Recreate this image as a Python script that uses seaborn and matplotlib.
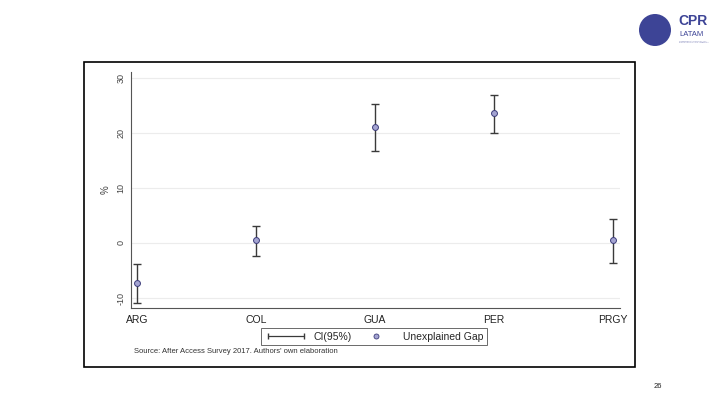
import matplotlib
matplotlib.use("Agg")
import matplotlib.pyplot as plt
import matplotlib.patches as mpatches
from matplotlib.lines import Line2D
from matplotlib.legend_handler import HandlerLine2D
import seaborn as sns
import pandas as pd

# data
countries = ["ARG", "COL", "GUA", "PER", "PRGY"]
gap = [-7.2, 0.5, 21.0, 23.6, 0.5]
ci_low = [-10.9, -2.4, 16.6, 20.0, -3.6]
ci_high = [-3.8, 3.1, 25.3, 26.8, 4.3]
yticks = [-10, 0, 10, 20, 30]

df = pd.DataFrame({"pos": range(len(countries)), "gap": gap,
                   "lo": ci_low, "hi": ci_high})

sns.set_style("white")
plt.rcParams["font.family"] = ["Liberation Sans", "DejaVu Sans"]

fig = plt.figure(figsize=(7.2, 4.05), dpi=100)
ax = fig.add_axes([0.182, 0.2395, 0.679, 0.5825])

# horizontal grid lines
for t in yticks:
    ax.axhline(t, color="#ececec", lw=0.8, zorder=0)

# CI bars
err = [df["gap"] - df["lo"], df["hi"] - df["gap"]]
ax.errorbar(df["pos"], df["gap"], yerr=err, fmt="none", ecolor="#3a3a3a",
            elinewidth=1.0, capsize=3, capthick=1.0, zorder=2)
sns.scatterplot(data=df, x="pos", y="gap", ax=ax, s=18, color="#a4a4d2",
                edgecolor="#3c3c7a", linewidth=0.7, zorder=3, legend=False)

ax.set_xlim(-0.05, 4.06)
ax.set_ylim(-11.8, 31)
ax.set_xticks(range(len(countries)))
ax.set_xticklabels(countries, fontsize=7.5, color="#222222")
ax.set_yticks(yticks)
ax.set_yticklabels([str(t) for t in yticks], rotation=90, va="center",
                   fontsize=6.5, color="#444444")
ax.set_xlabel("")
ax.set_ylabel("%", fontsize=7, color="#444444", labelpad=4)

for s in ["top", "right"]:
    ax.spines[s].set_visible(False)
for s in ["left", "bottom"]:
    ax.spines[s].set_color("#555555")
    ax.spines[s].set_linewidth(0.8)
ax.tick_params(axis="both", direction="out", length=3, width=0.7,
               color="#555555", pad=2)
ax.tick_params(axis="y", pad=1)

# legend
h_ci = Line2D([0], [0], color="#3a3a3a", lw=0.9, marker="|", markersize=4)
h_pt = Line2D([0], [0], ls="none", marker="o", markersize=3.6,
              markerfacecolor="#a4a4d2", markeredgecolor="#3c3c7a",
              markeredgewidth=0.6)
leg = fig.legend([h_ci, h_pt], ["CI(95%)", "Unexplained Gap"], ncol=2,
                 loc="center", bbox_to_anchor=(0.52, 0.169), fontsize=7.5,
                 frameon=True, fancybox=False, handlelength=4.0,
                 columnspacing=0.4, borderpad=0.35, handletextpad=0.6,
                 handler_map={h_ci: HandlerLine2D(numpoints=2)})
leg.get_frame().set_edgecolor("#444444")
leg.get_frame().set_linewidth(0.7)

fig.text(0.186, 0.131, "Source: After Access Survey 2017. Authors' own elaboration",
         fontsize=5.5, color="#333333", va="center")

# outer frame of the slide image
fig.add_artist(mpatches.Rectangle((84 / 720, 1 - 367 / 405), 551 / 720,
                                  305 / 405, transform=fig.transFigure,
                                  fill=False, edgecolor="black", lw=1.2))

# logo
fig.add_artist(mpatches.Ellipse((655 / 720, 1 - 30 / 405), 32 / 720, 32 / 405,
                                transform=fig.transFigure,
                                facecolor="#3d4496", edgecolor="none"))
fig.text(678 / 720, 1 - 21 / 405, "CPR", fontsize=10, fontweight="bold",
         color="#3d4496", va="center")
fig.text(679 / 720, 1 - 34 / 405, "LATAM", fontsize=5.5, color="#3d4496",
         va="center")
fig.text(679 / 720, 1 - 42 / 405, "COMMUNICATION POLICY\nRESEARCH LATIN AMERICA",
         fontsize=1.6, color="#7a7fb5", va="center")

fig.text(658 / 720, 1 - 386 / 405, "26", fontsize=5.5, color="#222222",
         ha="center", va="center")

fig.savefig("out.png", dpi=100)
